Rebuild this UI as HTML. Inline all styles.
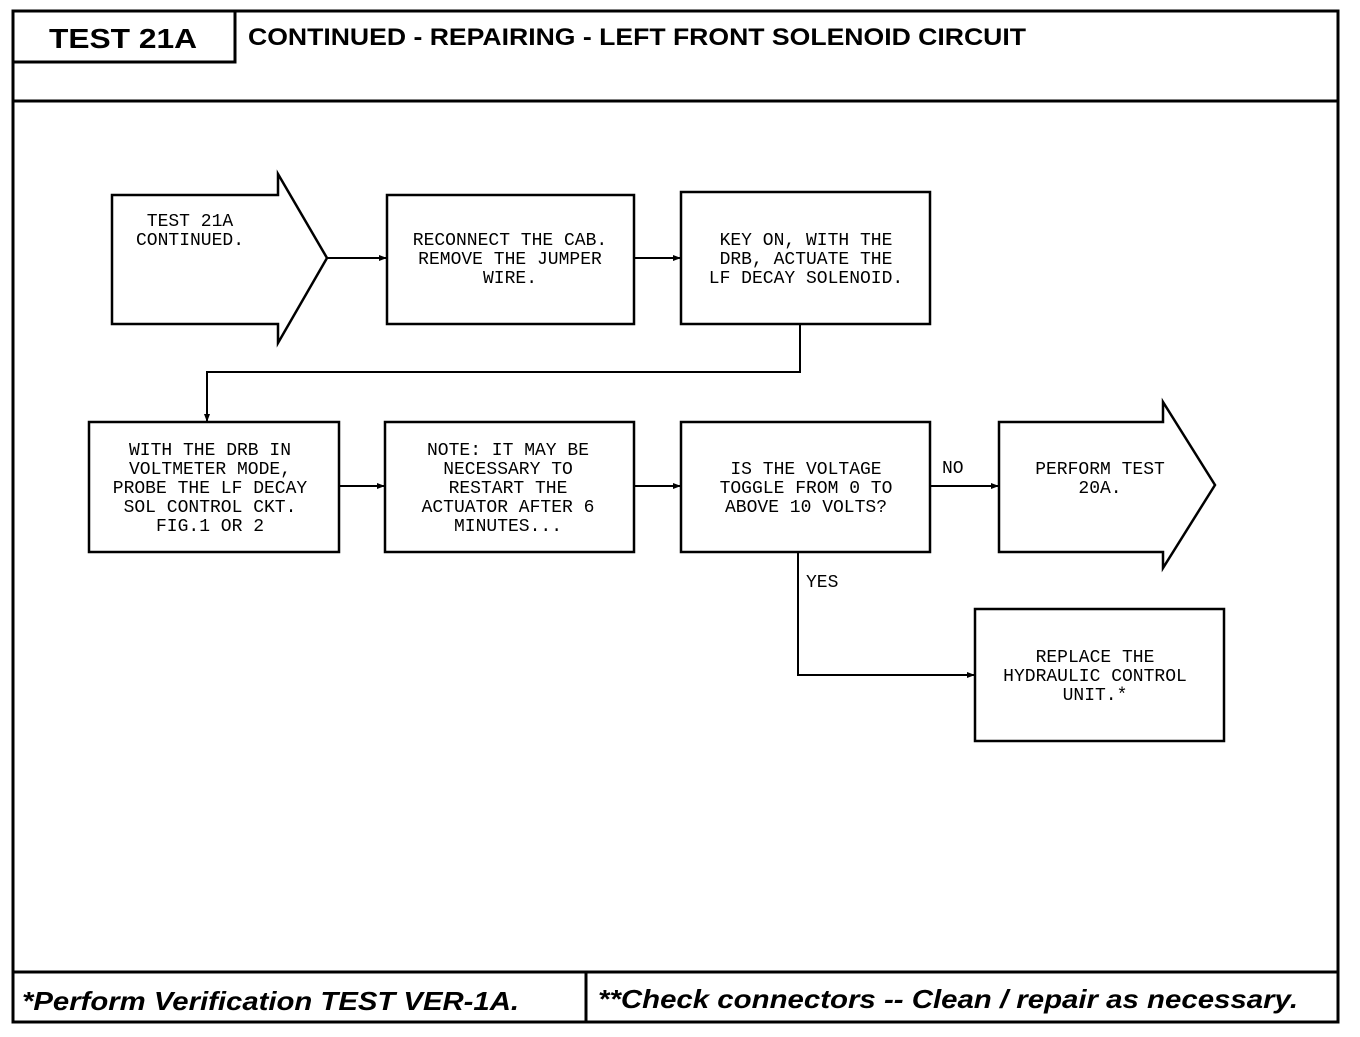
<!DOCTYPE html>
<html><head><meta charset="utf-8"><style>
body{margin:0;background:#fff}
svg text{font-family:"Liberation Mono",monospace;font-size:18px;fill:#000}
.h{font-family:"Liberation Sans",sans-serif;font-weight:bold}
</style></head><body>
<svg width="1360" height="1032" viewBox="0 0 1360 1032" xmlns="http://www.w3.org/2000/svg">
<defs><marker id="a" markerWidth="8" markerHeight="8" refX="7" refY="4" orient="auto" markerUnits="userSpaceOnUse"><path d="M0,1 L8,4 L0,7z" fill="#000"/></marker></defs>
<g fill="none" stroke="#000" stroke-width="3">
<rect x="13" y="11" width="1325" height="1011"/>
<line x1="13" y1="101" x2="1338" y2="101"/>
<polyline points="13,62 235,62 235,11"/>
<line x1="13" y1="972" x2="1338" y2="972"/>
<line x1="586" y1="972" x2="586" y2="1022"/>
</g>
<text class="h" x="49" y="48" textLength="148" lengthAdjust="spacingAndGlyphs" style="font-size:28px">TEST 21A</text>
<text class="h" x="248" y="45" textLength="778" lengthAdjust="spacingAndGlyphs" style="font-size:24px">CONTINUED - REPAIRING - LEFT FRONT SOLENOID CIRCUIT</text>
<text class="h" x="22" y="1010" textLength="497" lengthAdjust="spacingAndGlyphs" style="font-size:26px;font-style:italic">*Perform Verification TEST VER-1A.</text>
<text class="h" x="598" y="1008" textLength="700" lengthAdjust="spacingAndGlyphs" style="font-size:26px;font-style:italic">**Check connectors -- Clean / repair as necessary.</text>
<g fill="none" stroke="#000" stroke-width="2.5">
<path d="M112,195 H278 V174 L327,258 L278,343 V324 H112 Z"/>
<rect x="387" y="195" width="247" height="129"/>
<rect x="681" y="192" width="249" height="132"/>
<rect x="89" y="422" width="250" height="130"/>
<rect x="385" y="422" width="249" height="130"/>
<rect x="681" y="422" width="249" height="130"/>
<path d="M999,422 H1163 V402 L1215,485 L1163,568 V552 H999 Z"/>
<rect x="975" y="609" width="249" height="132"/>
</g>
<g fill="none" stroke="#000" stroke-width="2" marker-end="url(#a)">
<line x1="327" y1="258" x2="386" y2="258"/>
<line x1="634" y1="258" x2="680" y2="258"/>
<polyline points="800,324 800,372 207,372 207,421"/>
<line x1="339" y1="486" x2="384" y2="486"/>
<line x1="634" y1="486" x2="680" y2="486"/>
<line x1="930" y1="486" x2="998" y2="486"/>
<polyline points="798,552 798,675 974,675"/>
</g>
<g text-anchor="middle">
<text x="190" y="226">TEST 21A</text><text x="190" y="245">CONTINUED.</text>
<text x="510" y="245">RECONNECT THE CAB.</text><text x="510" y="264">REMOVE THE JUMPER</text><text x="510" y="283">WIRE.</text>
<text x="806" y="245">KEY ON, WITH THE</text><text x="806" y="264">DRB, ACTUATE THE</text><text x="806" y="283">LF DECAY SOLENOID.</text>
<text x="210" y="455">WITH THE DRB IN</text><text x="210" y="474">VOLTMETER MODE,</text><text x="210" y="493">PROBE THE LF DECAY</text><text x="210" y="512">SOL CONTROL CKT.</text><text x="210" y="531">FIG.1 OR 2</text>
<text x="508" y="455">NOTE: IT MAY BE</text><text x="508" y="474">NECESSARY TO</text><text x="508" y="493">RESTART THE</text><text x="508" y="512">ACTUATOR AFTER 6</text><text x="508" y="531">MINUTES...</text>
<text x="806" y="474">IS THE VOLTAGE</text><text x="806" y="493">TOGGLE FROM 0 TO</text><text x="806" y="512">ABOVE 10 VOLTS?</text>
<text x="1100" y="474">PERFORM TEST</text><text x="1100" y="493">20A.</text>
<text x="1095" y="662">REPLACE THE</text><text x="1095" y="681">HYDRAULIC CONTROL</text><text x="1095" y="700">UNIT.*</text>
</g>
<text x="942" y="473">NO</text>
<text x="806" y="587">YES</text>
</svg>
</body></html>
